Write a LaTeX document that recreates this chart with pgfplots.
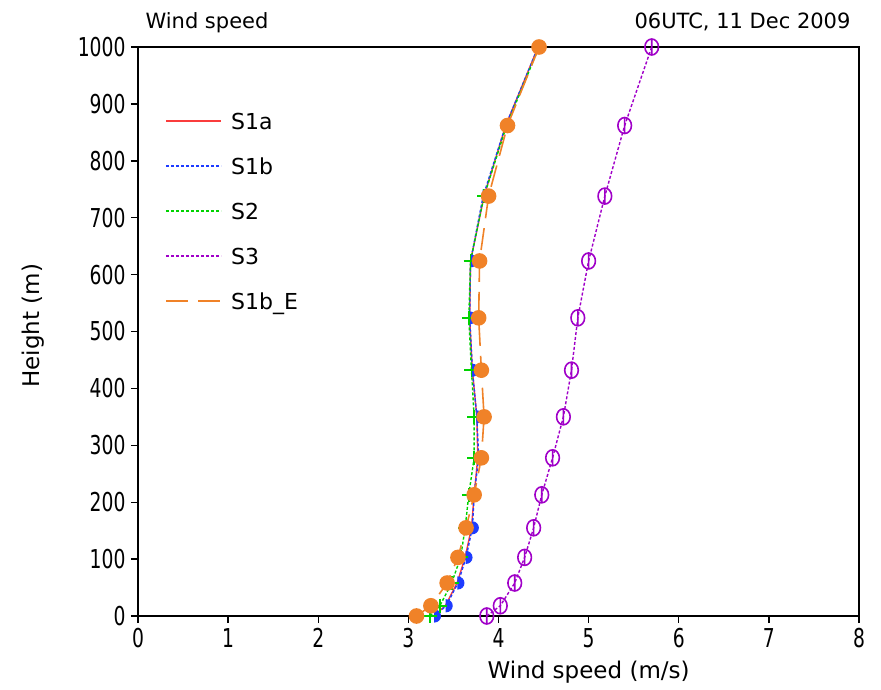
\documentclass[border=0pt]{standalone}
\usepackage{fontspec}
\setmainfont{DejaVu Sans}
\newfontfamily\tickfont{DejaVu Sans}[FakeStretch=0.72]
\usepackage{pgfplots}
\pgfplotsset{compat=1.18}
\definecolor{gred}{RGB}{250,60,60}
\definecolor{gblue}{RGB}{30,60,255}
\definecolor{ggreen}{RGB}{0,210,0}
\definecolor{gpurple}{RGB}{160,0,200}
\definecolor{gorange}{RGB}{240,130,40}
\pgfdeclareplotmark{phi}{%
  \pgfpathellipse{\pgfpointorigin}{\pgfqpoint{0.85\pgfplotmarksize}{0pt}}{\pgfqpoint{0pt}{\pgfplotmarksize}}%
  \pgfpathmoveto{\pgfqpoint{0pt}{-\pgfplotmarksize}}%
  \pgfpathlineto{\pgfqpoint{0pt}{\pgfplotmarksize}}%
  \pgfusepathqstroke}
\pgfdeclareplotmark{halfdot}{%
  \pgfpathmoveto{\pgfqpoint{0pt}{-\pgfplotmarksize}}%
  \pgfpatharc{-90}{90}{\pgfplotmarksize}%
  \pgfpathclose
  \pgfusepathqfillstroke}
\begin{document}
\begin{tikzpicture}
\useasboundingbox (-138pt,-73pt) rectangle (743pt,616pt);
\begin{axis}[
  scale only axis, width=721pt, height=569pt,
  xmin=0, xmax=8, ymin=0, ymax=1000,
  xtick={0,1,...,8}, ytick={0,100,...,1000},
  tick align=outside, xtick pos=left, ytick pos=left,
  major tick length=7pt,
  every tick/.style={black, line width=1.4pt},
  axis line style={line width=2pt},
  /pgf/number format/assume math mode=true,
  /pgf/number format/set thousands separator={},
  tick label style={font=\tickfont\fontsize{26}{30}\selectfont},
  xticklabel style={yshift=-2pt},
  yticklabel style={xshift=-2pt},
  xlabel={Wind speed (m/s)},
  ylabel={Height (m)},
  label style={font=\fontsize{23}{27}\selectfont},
  xlabel style={at={(rel axis cs:0.625,-0.0984)}, anchor=center},
  ylabel style={at={(rel axis cs:-0.1456,0.51)}, anchor=center},
  legend style={draw=none, fill=none, at={(axis cs:0.30,883.3)}, anchor=north west,
    font=\fontsize{22}{26}\selectfont, inner sep=0pt, row sep=25pt, column sep=9pt,
    nodes={inner sep=0pt, text height=16pt, text depth=4pt}},
  legend cell align=left,
  legend image code/.code={\draw[#1,mark=none,line width=2pt] (0pt,3pt) -- (55pt,3pt);},
]
\addplot[gred, line width=1.4pt] coordinates {
(3.28,0) (3.41,18) (3.54,58) (3.63,103) (3.70,155) (3.73,213) (3.77,278)
(3.76,350) (3.71,432) (3.68,524) (3.69,624) (3.84,738) (4.08,862) (4.44,1000)};
\addlegendentry{S1a}
\addplot[gblue, line width=1.4pt, dash pattern=on 3pt off 2pt,
  mark=halfdot, mark size=6pt, mark options={solid, line width=1pt}] coordinates {
(3.29,0) (3.42,18) (3.55,58) (3.64,103) (3.71,155) (3.73,213) (3.78,278)
(3.76,350) (3.71,432) (3.68,524) (3.69,624) (3.83,738) (4.08,862) (4.44,1000)};
\addlegendentry{S1b}
\addplot[ggreen, line width=1.4pt, dash pattern=on 3pt off 2pt,
  mark=+, mark size=7pt, mark options={solid, line width=1.8pt}] coordinates {
(3.24,0) (3.35,18) (3.48,58) (3.58,103) (3.63,155) (3.67,213) (3.73,278)
(3.73,350) (3.70,432) (3.67,524) (3.69,624) (3.84,738) (4.09,862) (4.45,1000)};
\addlegendentry{S2}
\addplot[gpurple, line width=1.4pt, dash pattern=on 3pt off 2pt,
  mark=phi, mark size=8pt, mark options={solid, line width=1.6pt}] coordinates {
(3.87,0) (4.02,18) (4.18,58) (4.29,103) (4.39,155) (4.48,213) (4.60,278)
(4.72,350) (4.81,432) (4.88,524) (5.00,624) (5.18,738) (5.40,862) (5.70,1000)};
\addlegendentry{S3}
\addplot[gorange, line width=1.6pt, dash pattern=on 22pt off 10pt,
  mark=*, mark size=7pt, mark options={solid, fill=gorange, draw=gorange}] coordinates {
(3.09,0) (3.25,18) (3.43,58) (3.55,103) (3.64,155) (3.73,213) (3.81,278)
(3.84,350) (3.81,432) (3.78,524) (3.79,624) (3.89,738) (4.10,862) (4.45,1000)};
\addlegendentry{S1b\_E}
\end{axis}
\node[anchor=base west, font=\fontsize{21}{25}\selectfont] at (4pt,587pt) {Wind speed};
\node[anchor=base east, font=\fontsize{21}{25}\selectfont] at (716pt,587pt) {06UTC, 11 Dec 2009};
\end{tikzpicture}
\end{document}
